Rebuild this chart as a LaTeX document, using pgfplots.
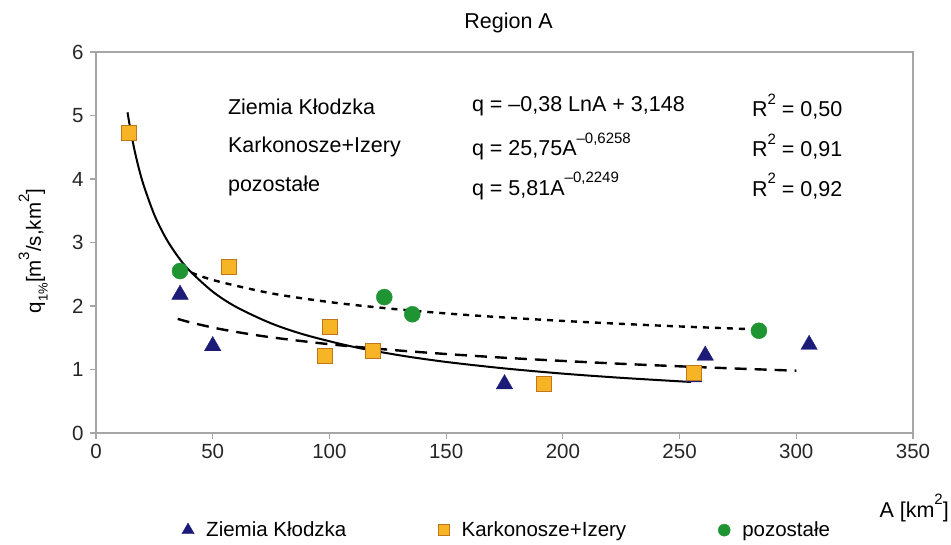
\documentclass[border=0pt]{standalone}
\usepackage{fontspec}
\setmainfont{Liberation Sans}
\usepackage{pgfplots}
\pgfplotsset{compat=1.18}

\definecolor{axisgray}{HTML}{A6A6A6}
\definecolor{triblue}{HTML}{1C1C78}
\definecolor{sqfill}{HTML}{F7B526}
\definecolor{sqedge}{HTML}{C0761A}
\definecolor{circgreen}{HTML}{1E9433}

% raised small exponent, as set by a spreadsheet trendline label
\newcommand{\expo}[1]{\raisebox{0.58em}{\fontsize{15}{15}\selectfont #1}}
\newcommand{\lowr}[1]{\raisebox{-0.32em}{\fontsize{13}{13}\selectfont #1}}

\begin{document}
\begin{tikzpicture}
\useasboundingbox (-96pt,-112pt) rectangle (855pt,433pt);
\begin{axis}[
  at={(0pt,0pt)}, anchor=south west,
  scale only axis, width=817pt, height=381pt,
  xmin=0, xmax=350, ymin=0, ymax=6,
  xtick={0,50,...,350}, ytick={0,1,...,6},
  axis line style={axisgray, line width=1.6pt},
  tick style={axisgray, line width=1.2pt},
  tick align=outside, major tick length=6pt,
  xtick pos=bottom, ytick pos=left,
  /pgf/number format/assume math mode=true,
  ticklabel style={font=\fontsize{20.5}{22}\selectfont, text=black!85},
  xticklabel style={yshift=-2pt},
  yticklabel style={xshift=-3pt},
  title={Region A},
  title style={font=\fontsize{21.5}{23}\selectfont, at={(0.505,1)}, yshift=10pt},
  ylabel={q\lowr{1\%}[m\expo{3}/s,km\expo{2}]},
  ylabel style={font=\fontsize{20.5}{22}\selectfont, at={(axis description cs:-0.0770,0.478)}, anchor=center},
  legend columns=3,
  legend style={draw=none, fill=none, at={(0.503,-0.255)}, anchor=center,
    font=\fontsize{20.5}{22}\selectfont,
    /tikz/every odd column/.append style={column sep=10pt},
    /tikz/every even column/.append style={column sep=90pt}},
  legend image post style={scale=0.75},
  legend cell align=left,
  clip=false,
]
% measured points
\addplot[only marks, mark=triangle*, mark size=9.5pt, draw=triblue, fill=triblue]
  coordinates {(36,2.18) (50,1.37) (175,0.77) (256,0.88) (261,1.22) (305.5,1.39)};
\addlegendentry{Ziemia Kłodzka}
\addplot[only marks, mark=square*, mark size=7.5pt, draw=sqedge, fill=sqfill, line width=0.8pt]
  coordinates {(14,4.72) (57,2.62) (100.3,1.67) (98,1.21) (118.5,1.3) (192,0.77) (256,0.94)};
\addlegendentry{Karkonosze+Izery}
\addplot[only marks, mark=*, mark size=8pt, draw=circgreen, fill=circgreen]
  coordinates {(36,2.55) (123.5,2.14) (135.5,1.87) (284,1.61)};
\addlegendentry{pozostałe}

% trend lines
\addplot[forget plot, black, line width=2pt, smooth] coordinates {
  (13.5,5.05) (15,4.730) (17,4.373) (20,3.950) (25,3.435) (30,3.065) (35,2.783)
  (40,2.560) (50,2.226) (60,1.986) (75,1.727) (90,1.541) (110,1.359) (130,1.224)
  (150,1.119) (175,1.017) (200,0.935) (225,0.869) (255,0.803)};
\addplot[forget plot, black, line width=2.4pt, dash pattern=on 12pt off 8pt, smooth] coordinates {
  (35,1.797) (40,1.746) (50,1.661) (60,1.592) (75,1.507) (100,1.398) (125,1.313)
  (150,1.244) (175,1.185) (200,1.135) (225,1.090) (250,1.050) (275,1.014) (300,0.981)};
\addplot[forget plot, black, line width=2.4pt, dash pattern=on 6pt off 6pt, smooth] coordinates {
  (36,2.595) (50,2.410) (75,2.200) (100,2.062) (125,1.962) (150,1.883) (175,1.819)
  (200,1.765) (225,1.719) (250,1.678) (280,1.636)};

% fitted equations
\begin{scope}[every node/.style={font=\fontsize{21.5}{23}\selectfont, anchor=west, inner sep=0pt}]
\node at (axis cs:56.5,5.14) {Ziemia Kłodzka};
\node at (axis cs:56.5,4.51) {Karkonosze+Izery};
\node at (axis cs:56.5,3.89) {pozostałe};
\node at (axis cs:161,5.14) {q = –0,38 LnA + 3,148};
\node at (axis cs:161,4.51) {q = 25,75A\expo{–0,6258}};
\node at (axis cs:161,3.89) {q = 5,81A\expo{–0,2249}};
\node at (axis cs:281,5.14) {R\expo{2} = 0,50};
\node at (axis cs:281,4.51) {R\expo{2} = 0,91};
\node at (axis cs:281,3.89) {R\expo{2} = 0,92};
\node[anchor=center] at (axis cs:350.5,-1.18) {A [km\expo{2}]};
\end{scope}
\end{axis}
\end{tikzpicture}
\end{document}
